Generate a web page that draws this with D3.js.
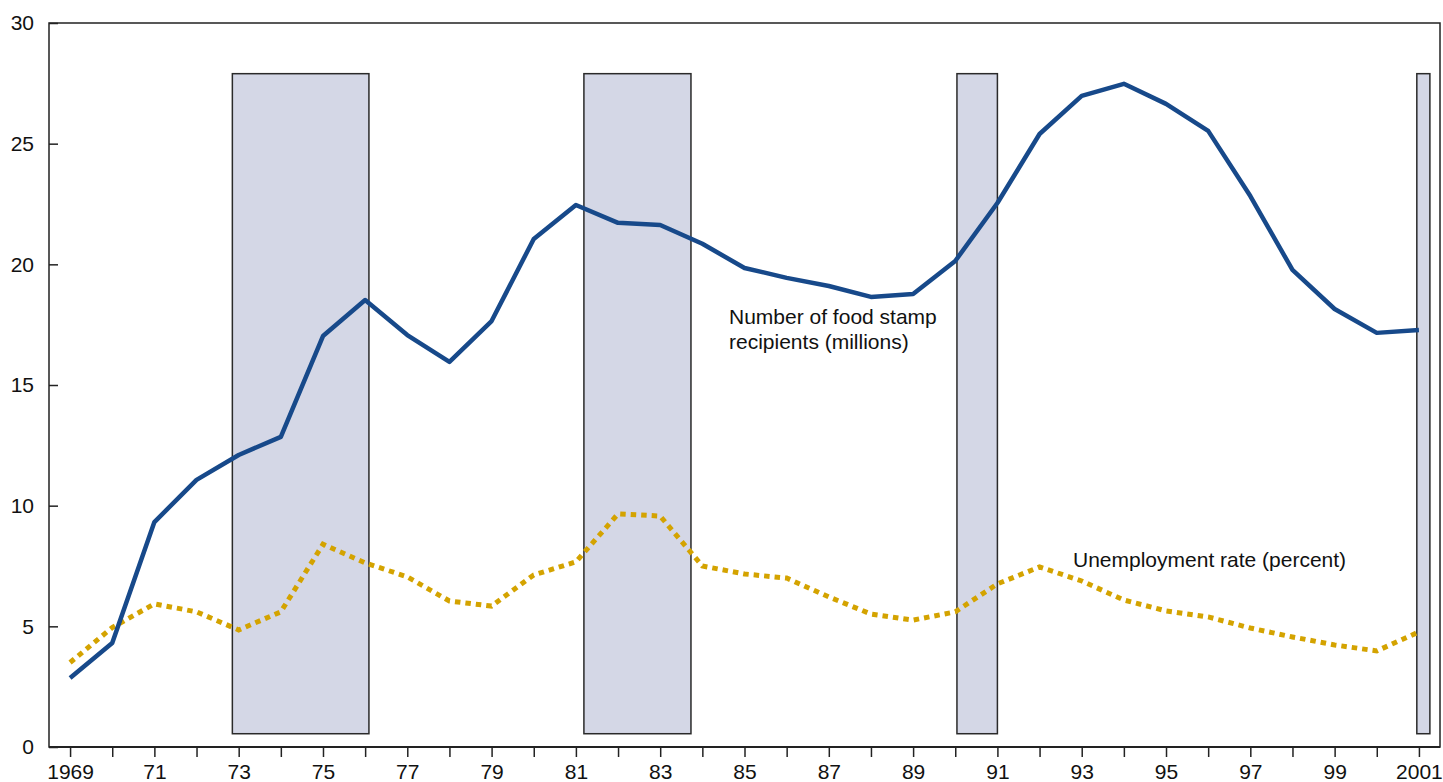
<!DOCTYPE html>
<html><head><meta charset="utf-8">
<script src="https://cdn.jsdelivr.net/npm/d3@7"></script>
<style>
body{margin:0;background:#fff;}
text{font-family:"Liberation Sans",Arial,sans-serif;fill:#111;}
</style></head>
<body><svg id="c" width="1443" height="782"></svg>
<script>
const years = d3.range(1969, 2002);
const foodStamps = [2.86,4.31,9.32,11.07,12.10,12.85,17.03,18.52,17.07,15.96,17.65,21.05,22.46,21.72,21.63,20.85,19.85,19.44,19.10,18.65,18.77,20.14,22.54,25.40,26.98,27.48,26.65,25.53,22.83,19.77,18.15,17.16,17.28];
const unemployment = [3.5,4.95,5.93,5.6,4.85,5.6,8.4,7.63,7.05,6.05,5.84,7.13,7.67,9.66,9.57,7.5,7.17,7.0,6.22,5.51,5.26,5.6,6.76,7.46,6.88,6.09,5.64,5.39,4.93,4.56,4.23,3.98,4.77];
const recessions = [[1972.85,1976.09],[1981.19,1983.73],[1990.04,1991.0],[2000.95,2001.26]];
const recessionTop = 27.9, recessionBottom = 0.55;
const yTicks = [0,5,10,15,20,25,30];
const xTickLabels = {1969:"1969",1971:"71",1973:"73",1975:"75",1977:"77",1979:"79",1981:"81",1983:"83",1985:"85",1987:"87",1989:"89",1991:"91",1993:"93",1995:"95",1997:"97",1999:"99",2001:"2001"};

const svg = d3.select("#c");
const L=49, R=1440, T=23, B=747;
const x = d3.scaleLinear().domain([1968.5,2001.5]).range([L,R]);
const y = d3.scaleLinear().domain([0,30]).range([B,T]);

// recession bars
svg.append("g").selectAll("rect").data(recessions).join("rect")
  .attr("x",d=>x(d[0])).attr("width",d=>x(d[1])-x(d[0]))
  .attr("y",y(recessionTop)).attr("height",y(recessionBottom)-y(recessionTop))
  .attr("fill","#d4d7e6").attr("stroke","#2a2a2a").attr("stroke-width",1.5);

// frame
svg.append("rect").attr("x",L).attr("y",T).attr("width",R-L).attr("height",B-T)
  .attr("fill","none").attr("stroke","#222").attr("stroke-width",1.5);

// y axis
const yAxis = d3.axisLeft(y).tickValues(yTicks).tickSize(-9).tickPadding(15);
const gy = svg.append("g").attr("transform",`translate(${L},0)`).call(yAxis);
gy.select(".domain").remove();
gy.selectAll("line").attr("stroke","#222").attr("stroke-width",1.5);
gy.selectAll("text").style("font-size","21px").attr("font-family","Liberation Sans, Arial, sans-serif").attr("fill","#111");

// x axis
const xAxis = d3.axisBottom(x).tickValues(years).tickSize(10).tickPadding(7)
  .tickFormat(d=>xTickLabels[d]||"");
const gx = svg.append("g").attr("transform",`translate(0,${B})`).call(xAxis);
gx.select(".domain").remove();
gx.selectAll("line").attr("stroke","#222").attr("stroke-width",1.5);
gx.selectAll("text").style("font-size","21px").attr("font-family","Liberation Sans, Arial, sans-serif").attr("fill","#111");
svg.append("line").attr("x1",L).attr("x2",R).attr("y1",B).attr("y2",B).attr("stroke","#222").attr("stroke-width",2);

const line = d3.line().x((d,i)=>x(years[i])).y(d=>y(d));

svg.append("path").datum(unemployment).attr("d",line)
  .attr("fill","none").attr("stroke","#d4a300").attr("stroke-width",5)
  .attr("stroke-dasharray","5.5,5");

svg.append("path").datum(foodStamps).attr("d",line)
  .attr("fill","none").attr("stroke","#17498a").attr("stroke-width",4.5)
  .attr("stroke-linejoin","round");

const lab = svg.append("g").style("font-size","21px");
lab.append("text").attr("x",729).attr("y",324).text("Number of food stamp");
lab.append("text").attr("x",729).attr("y",349).text("recipients (millions)");
lab.append("text").attr("x",1073).attr("y",567).text("Unemployment rate (percent)");
</script></body></html>
